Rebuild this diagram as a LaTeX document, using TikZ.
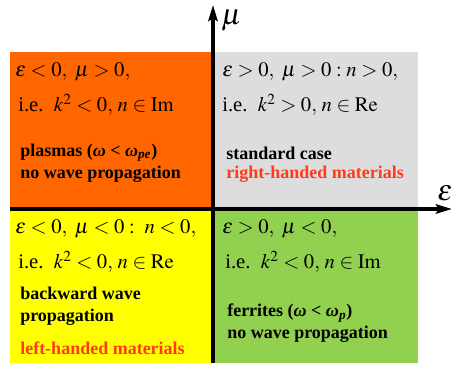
\documentclass[tikz,border=0pt]{standalone}
\usepackage{mathptmx}
\usepackage[no-math]{fontspec}
\setmainfont{Liberation Serif}
\usetikzlibrary{arrows.meta}
\definecolor{plasmaorange}{HTML}{FF6600}
\definecolor{standardgray}{HTML}{DDDDDD}
\definecolor{lhmyellow}{HTML}{FFFF00}
\definecolor{ferritegreen}{HTML}{92D050}
\definecolor{notered}{HTML}{FF3A1A}
\tikzset{
  cond/.style={anchor=west, inner sep=0pt, font=\fontsize{15.5}{17}\selectfont},
  note/.style={anchor=west, inner sep=0pt, align=left, font=\fontsize{13.5}{16.5}\selectfont\bfseries},
  axis/.style={line width=2.4pt, -{Stealth[length=12pt, width=7pt, inset=2pt]}},
}
\begin{document}
\begin{tikzpicture}[x=0.75pt, y=-0.75pt]
\useasboundingbox (0,0) rectangle (451,365);
% quadrants
\fill[plasmaorange] (10,52) rectangle (213,209);
\fill[standardgray] (213,52) rectangle (418,209);
\fill[lhmyellow] (10,209) rectangle (213,363);
\fill[ferritegreen] (213,209) rectangle (418,363);
% axes
\coordinate (ybot) at (213,363);
\coordinate (ytop) at (213,5);
\coordinate (xleft) at (10,209);
\coordinate (xright) at (452,209);
\draw[axis] (ybot) -- (ytop);
\draw[axis] (xleft) -- (xright);
\node[anchor=west, inner sep=0pt, font=\fontsize{22}{22}\selectfont] (mulab) at (221,21) {$\mu$};
\node[anchor=west, inner sep=0pt, font=\fontsize{22}{22}\selectfont] (epslab) at (437,193) {$\varepsilon$};
% eps<0, mu>0
\node[cond] (tl1) at (15,72) {$\varepsilon<0,\ \mu>0,$};
\node[cond] (tl2) at (18,105) {i.e.\ \ $k^2<0,\, n\in\mathrm{Im}$};
\node[note] (tl3) at (20,163) {plasmas (\textit{ω} < \textit{ω}\textsubscript{\textit{pe}})\\no wave propagation};
% eps>0, mu>0
\node[cond] (tr1) at (222,72) {$\varepsilon>0,\ \mu>0: n>0,$};
\node[cond] (tr2) at (222,105) {i.e.\ \ $k^2>0,\, n\in\mathrm{Re}$};
\node[note] (tr3) at (226,153) {standard case};
\node[note, text=notered] (tr4) at (226,174) {right-handed materials};
% eps<0, mu<0
\node[cond] (bl1) at (15,229) {$\varepsilon<0,\ \mu<0:\ n<0,$};
\node[cond] (bl2) at (18,262) {i.e.\ \ $k^2<0,\, n\in\mathrm{Re}$};
\node[note] (bl3) at (20,306) {backward wave\\propagation};
\node[note, text=notered] (bl4) at (20,348) {left-handed materials};
% eps>0, mu<0
\node[cond] (br1) at (222,229) {$\varepsilon>0,\ \mu<0,$};
\node[cond] (br2) at (225,262) {i.e.\ \ $k^2<0,\, n\in\mathrm{Im}$};
\node[note] (br3) at (227,323) {ferrites (\textit{ω} < \textit{ω}\textsubscript{\textit{p}})\\no wave propagation};
\end{tikzpicture}
\end{document}
